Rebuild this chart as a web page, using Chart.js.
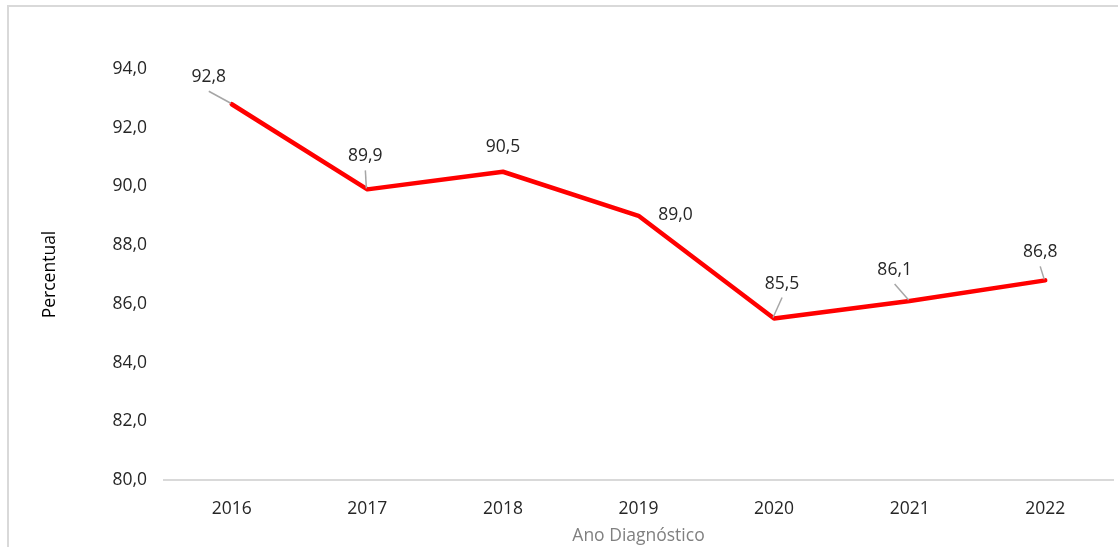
<!DOCTYPE html>
<html>
<head>
<meta charset="utf-8">
<script src="https://cdn.jsdelivr.net/npm/chart.js@4"></script>
<style>
  html, body { margin: 0; padding: 0; background: #fff; overflow: hidden; }
</style>
</head>
<body>
<canvas id="chart" width="1118" height="547"></canvas>
<script>
const years = ["2016", "2017", "2018", "2019", "2020", "2021", "2022"];
const percentual = [92.8, 89.9, 90.5, 89.0, 85.5, 86.1, 86.8];
const yTicks = [80, 82, 84, 86, 88, 90, 92, 94];

const fmt = v => v.toFixed(1).replace(".", ",");
const FONT = "'Open Sans', sans-serif";

// label offsets from the point (Excel placed them by hand), and leader lines
const labelPlacement = [
  { dx: -23, dy: -27, leader: true },
  { dx: -2, dy: -33, leader: true },
  { dx: 0, dy: -25, leader: false },
  { dx: 37, dy: -1, leader: false },
  { dx: 8, dy: -35, leader: true },
  { dx: -15, dy: -31, leader: true },
  { dx: -5, dy: -28, leader: true }
];

const frame = {
  id: "frame",
  beforeDraw(chart) {
    const ctx = chart.ctx;
    ctx.save();
    ctx.strokeStyle = "#d9d9d9";
    ctx.lineWidth = 2;
    ctx.beginPath();
    ctx.moveTo(8, chart.height + 2);
    ctx.lineTo(8, 6);
    ctx.lineTo(chart.width + 2, 6);
    ctx.stroke();
    ctx.restore();
  }
};

const valueLabels = {
  id: "valueLabels",
  afterDatasetsDraw(chart) {
    const ctx = chart.ctx;
    const meta = chart.getDatasetMeta(0);
    ctx.save();
    meta.data.forEach((pt, i) => {
      const p = labelPlacement[i];
      const tx = pt.x + p.dx, ty = pt.y + p.dy;
      if (p.leader) {
        ctx.strokeStyle = "#a6a6a6";
        ctx.lineWidth = 1.5;
        ctx.beginPath();
        ctx.moveTo(tx, ty + 14);
        ctx.lineTo(pt.x - 1, pt.y - 1);
        ctx.stroke();
      }
      ctx.fillStyle = "#262626";
      ctx.font = "17.5px " + FONT;
      ctx.textAlign = "center";
      ctx.textBaseline = "middle";
      ctx.fillText(fmt(percentual[i]), tx, ty);
    });
    ctx.restore();
  }
};

new Chart(document.getElementById("chart"), {
  type: "line",
  data: {
    labels: years,
    datasets: [{
      data: percentual,
      borderColor: "#ff0000",
      borderWidth: 4.5,
      borderJoinStyle: "round",
      borderCapStyle: "round",
      pointRadius: 0,
      tension: 0,
      fill: false
    }]
  },
  options: {
    responsive: false,
    animation: false,
    devicePixelRatio: 1,
    layout: { padding: { top: 69, right: 5, left: 0, bottom: 0 } },
    plugins: {
      legend: { display: false },
      tooltip: { enabled: false }
    },
    scales: {
      x: {
        offset: true,
        grid: { display: false, drawTicks: false, offset: true },
        border: { display: true, color: "#d9d9d9", width: 2 },
        ticks: { color: "#262626", font: { family: FONT, size: 17.5 }, padding: 19 },
        title: {
          display: true,
          text: "Ano Diagnóstico",
          color: "#808080",
          font: { family: FONT, size: 17.5 },
          padding: { top: 0, bottom: 0 }
        },
        afterFit: s => { s.height = 67; }
      },
      y: {
        min: 80,
        max: 94,
        grid: { display: false, drawTicks: false },
        border: { display: false },
        afterBuildTicks: s => { s.ticks = yTicks.map(v => ({ value: v })); },
        ticks: {
          color: "#262626",
          font: { family: FONT, size: 17.5 },
          padding: 17,
          callback: v => fmt(v)
        },
        title: {
          display: true,
          text: "Percentual",
          color: "#000000",
          font: { family: FONT, size: 17.5 },
          padding: { top: 40, bottom: 0 }
        },
        afterFit: s => { s.width = 164; }
      }
    }
  },
  plugins: [frame, valueLabels]
});
</script>
</body>
</html>
